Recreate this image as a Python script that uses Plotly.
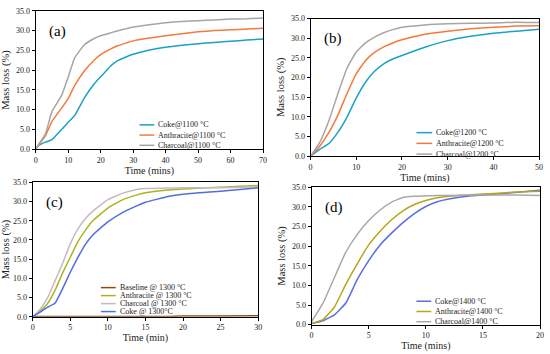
import plotly.graph_objects as go

# ---------------- data ----------------
# (a) 1100 °C
t_a = [0, 1, 3, 5, 8, 10, 12, 15, 18, 20, 23, 25, 28, 30, 35, 40, 45, 50, 55, 60, 65, 70]
coke_a = [0, 1.0, 1.8, 2.4, 5.0, 6.8, 8.5, 13.0, 16.5, 18.3, 21.0, 22.3, 23.4, 24.0, 25.1, 25.8, 26.3, 26.7, 27.0, 27.3, 27.6, 27.9]
anth_a = [0, 1.2, 3.4, 7.0, 10.4, 12.8, 16.1, 19.8, 22.5, 23.9, 25.3, 26.1, 26.9, 27.4, 28.1, 28.7, 29.2, 29.7, 30.0, 30.2, 30.4, 30.6]
char_a = [0, 1.3, 3.8, 9.5, 13.6, 18.2, 23.1, 26.4, 28.0, 28.7, 29.4, 29.9, 30.5, 30.9, 31.5, 32.0, 32.3, 32.5, 32.7, 32.9, 33.0, 33.2]
names_a = ["Coke@1100 °C", "Anthracite@1100 °C", "Charcoal@1100 °C"]

# (b) 1200 °C
t_b = [0, 2, 4, 6, 8, 10, 12, 14, 16, 18, 20, 25, 30, 35, 40, 45, 50]
coke_b = [0, 1.7, 3.2, 6.1, 10.0, 14.8, 18.8, 21.6, 23.5, 24.7, 25.6, 27.7, 29.4, 30.5, 31.3, 31.8, 32.3]
anth_b = [0, 2.5, 6.0, 10.5, 16.0, 21.0, 24.3, 26.4, 27.8, 28.8, 29.6, 31.0, 31.8, 32.4, 32.8, 33.1, 33.2]
char_b = [0, 3.5, 9.0, 16.0, 22.5, 26.5, 28.8, 30.3, 31.4, 32.2, 32.8, 33.4, 33.7, 33.8, 33.9, 34.1, 34.0]
names_b = ["Coke@1200 °C", "Anthracite@1200 °C", "Charcoal@1200 °C"]

# (c) 1300 °C
t_c = [0, 1, 2, 3, 4, 5, 6, 7, 8, 10, 12, 14, 15, 18, 20, 25, 30]
base_c = [0.1, 0.1, 0.1, 0.1, 0.1, 0.1, 0.1, 0.1, 0.1, 0.1, 0.1, 0.1, 0.1, 0.1, 0.2, 0.2, 0.3]
anth_c = [0, 1.5, 3.5, 7.0, 11.5, 15.5, 19.5, 22.5, 25.0, 28.3, 30.5, 31.8, 32.3, 33.0, 33.3, 33.7, 34.2]
char_c = [0, 2.0, 5.0, 9.5, 14.0, 19.0, 22.8, 25.5, 27.5, 30.5, 32.2, 33.2, 33.4, 33.5, 33.6, 33.6, 33.8]
coke_c = [0, 1.2, 2.5, 3.6, 7.4, 11.6, 15.4, 18.8, 21.3, 24.7, 27.2, 29.0, 29.8, 31.3, 31.9, 32.7, 33.6]
names_c = ["Baseline @ 1300 °C", "Anthracite @ 1300 °C", "Charcoal @ 1300 °C", "Coke @ 1300°C"]

# (d) 1400 °C
t_d = [0, 1, 2, 3, 4, 5, 6, 7, 8, 9, 10, 11, 12, 14, 16, 18, 20]
coke_d = [0.3, 1.0, 2.5, 5.5, 11.5, 16.3, 20.3, 23.3, 26.0, 28.3, 30.1, 31.3, 32.0, 32.8, 33.2, 33.7, 34.2]
anth_d = [0.3, 1.3, 4.5, 10.3, 15.5, 20.3, 23.8, 26.7, 29.0, 30.6, 31.6, 32.3, 32.7, 33.1, 33.4, 33.8, 34.0]
char_d = [0.8, 5.5, 12.0, 18.5, 23.0, 26.5, 29.2, 31.2, 32.4, 32.7, 32.8, 32.9, 32.9, 33.0, 33.0, 33.0, 32.9]
names_d = ["Coke@1400 °C", "Anthracite@1400 °C", "Charcoal@1400 °C"]

y_ticks = [0, 5, 10, 15, 20, 25, 30, 35]

FONT = "Liberation Serif"
TXT = "#222222"
W, H = 550, 354

panels = [
    # (x-data, [series], names, colours, axis idx, label, box px, xmax, dtick, x title, legend px)
    (t_a, [coke_a, anth_a, char_a], names_a, ["#1ba1c5", "#f47a3c", "#a5a5a5"], 1, "(a)",
     (34, 264, 7, 149), 70, 10, "Time (mins)", (139, 154, 124, 10.5)),
    (t_b, [coke_b, anth_b, char_b], names_b, ["#1ba1c5", "#f47a3c", "#a5a5a5"], 2, "(b)",
     (312, 543, 15, 156), 50, 10, "Time (mins)", (419, 435, 132, 11)),
    (t_c, [base_c, anth_c, char_c, coke_c], names_c, ["#8b4c1a", "#a9b51a", "#c6b8c6", "#4f6fe0"], 3, "(c)",
     (31, 259, 183, 321), 30, 5, "Time (min)", (100, 115, 291, 8.2)),
    (t_d, [coke_d, anth_d, char_d], names_d, ["#5a6ee0", "#b8a61a", "#a8a8a8"], 4, "(d)",
     (313, 544, 188, 329), 20, 5, "Time (mins)", (419, 434, 305, 10.5)),
]

fig = go.Figure()
layout = {}
anns = []
shapes = []
for xs, series, names, colors, i, lab, box, xmax, dx, xt, leg in panels:
    sfx = "" if i == 1 else str(i)
    for ys, nm, col in zip(series, names, colors):
        fig.add_trace(go.Scatter(x=xs, y=ys, name=nm, mode="lines",
                                 line=dict(color=col, width=1.5, shape="spline", smoothing=0.35),
                                 xaxis=f"x{sfx}", yaxis=f"y{sfx}", showlegend=False))
    x0, x1, y0, y1 = box
    layout[f"xaxis{sfx}"] = dict(
        domain=[x0 / W, x1 / W], range=[0, xmax], dtick=dx, anchor=f"y{sfx}",
        showline=True, linecolor="black", linewidth=1, mirror=True,
        ticks="outside", ticklen=3, tickcolor="black", showgrid=False, zeroline=False,
        tickfont=dict(family=FONT, size=8, color=TXT),
        title=dict(text=xt, font=dict(family=FONT, size=10, color=TXT), standoff=0),
    )
    layout[f"yaxis{sfx}"] = dict(
        domain=[1 - y1 / H, 1 - y0 / H], range=[0, 35], tickvals=y_ticks, tickformat=".1f",
        anchor=f"x{sfx}",
        showline=True, linecolor="black", linewidth=1, mirror=True,
        ticks="outside", ticklen=3, tickcolor="black", showgrid=False, zeroline=False,
        tickfont=dict(family=FONT, size=8, color=TXT),
        title=dict(text="Mass loss (%)", font=dict(family=FONT, size=10.5, color=TXT), standoff=4),
    )
    anns.append(dict(text=lab, x=0.05, y=0.93, xref=f"x{sfx} domain", yref=f"y{sfx} domain",
                     xanchor="left", yanchor="top", showarrow=False,
                     font=dict(family=FONT, size=15, color="black")))
    # legend (key line + text) inside the plot area
    lx0, lx1, ly, gap = leg
    for k, (nm, col) in enumerate(zip(names, colors)):
        yy = 1 - (ly + k * gap) / H
        shapes.append(dict(type="line", xref="paper", yref="paper", x0=lx0 / W, x1=lx1 / W,
                           y0=yy, y1=yy, line=dict(color=col, width=1.5)))
        anns.append(dict(text=nm, x=(lx1 + 2) / W, y=yy, xref="paper", yref="paper",
                         xanchor="left", yanchor="middle", showarrow=False,
                         font=dict(family=FONT, size=8, color=TXT)))

fig.update_layout(**layout, annotations=anns, shapes=shapes, width=W, height=H,
                  margin=dict(l=0, r=0, t=0, b=0), plot_bgcolor="white", paper_bgcolor="white",
                  showlegend=False)
fig.write_html("out.html", config={"displayModeBar": False},
               post_script="document.body.style.margin='0';document.body.style.overflow='hidden';")
